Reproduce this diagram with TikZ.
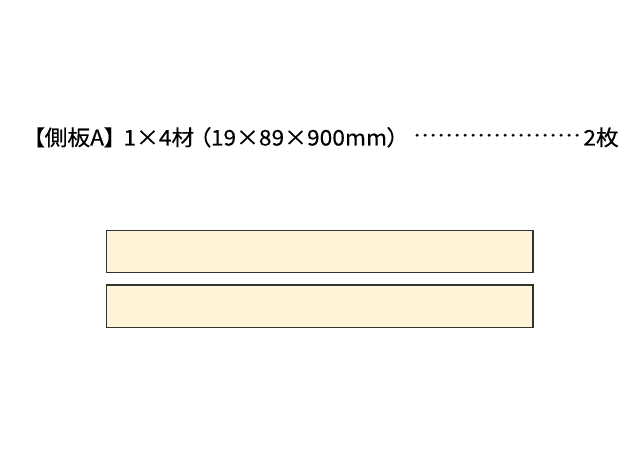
\documentclass[tikz,border=0pt]{standalone}
\usepackage{fontspec}
\setmainfont{Noto Sans CJK JP}[FakeStretch=1.06,FakeBold=0.3]
\newfontfamily\paltfont{Noto Sans CJK JP}[RawFeature=+palt,FakeStretch=1.06,FakeBold=0.3]
\begin{document}
\begin{tikzpicture}[x=1pt,y=1pt,
  board/.style={draw=black!80,line width=1.3pt,fill=boardfill},
  label/.style={inner sep=0pt,anchor=base west,font=\fontsize{21.5}{24}\selectfont}]
\definecolor{boardfill}{HTML}{FFF4D6}
\useasboundingbox (0,0) rectangle (640,450);
\node[label,font=\paltfont\fontsize{21.5}{24}\selectfont] (title) at (33,304.5) {【側板A】\hspace{8pt}1×4材 （19×89×900mm）};
\node[label,anchor=base east] (count) at (619,304.5) {2枚};
\node[label] (dots) at (413,304.5) {\hbox to 168pt{\xleaders\hbox to 8pt{\hss\raisebox{2.5pt}{·}\hss}\hfill}};
\path[board] (106.7,219.3) rectangle (533,177.3);
\path[board] (106.7,165) rectangle (533,122.7);
\end{tikzpicture}
\end{document}
